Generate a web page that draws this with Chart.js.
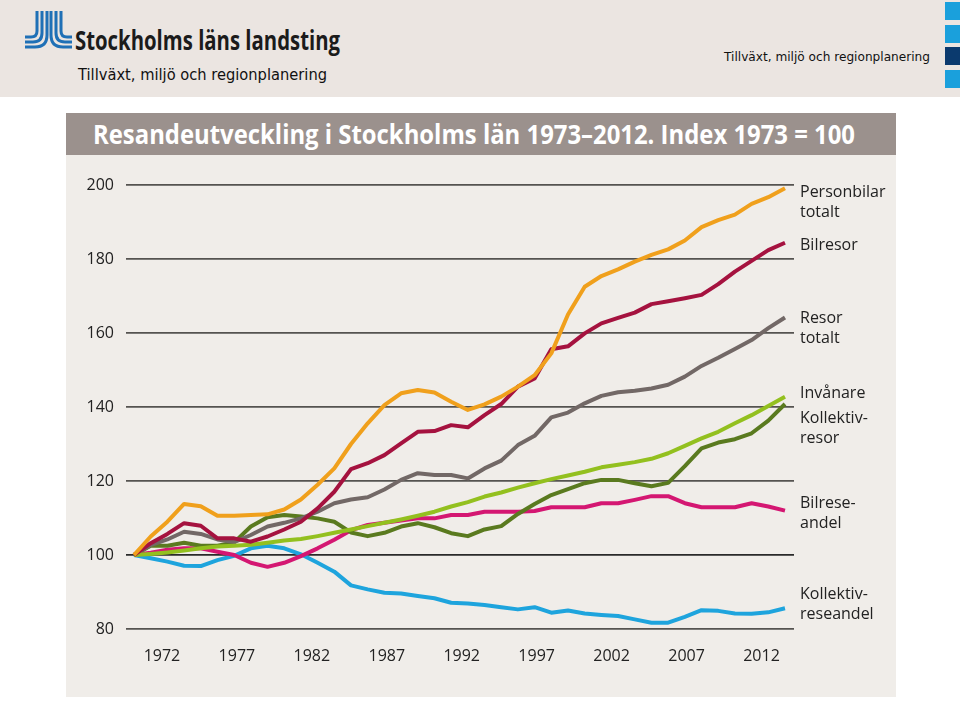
<!DOCTYPE html>
<html>
<head>
<meta charset="utf-8">
<script src="https://cdn.jsdelivr.net/npm/chart.js@4.4.1/dist/chart.umd.min.js"></script>
<style>
  html, body { margin:0; padding:0; background:#ffffff; }
  body { width:960px; height:702px; position:relative; overflow:hidden; font-family:"Open Sans", sans-serif; }
  #header { position:absolute; left:0; top:0; width:960px; height:97px; background:#ebe5e1; }
  .fit { position:absolute; white-space:nowrap; transform-origin:left center; display:inline-block; }
  #brand { left:75px; top:25px; font-family:"Open Sans", sans-serif; font-weight:700; font-size:26px; color:#1b1b1b; line-height:30px; }
  #sub1 { left:78px; top:66px; font-family:"DejaVu Sans", Verdana, sans-serif; font-size:15px; color:#111; line-height:19px; }
  #sub2 { left:724px; top:49px; font-family:"DejaVu Sans", Verdana, sans-serif; font-size:12.5px; color:#111; line-height:16px; }
  .sq { position:absolute; left:945px; width:15px; height:18px; background:#1aa0dc; }
  #panel { position:absolute; left:66px; top:113px; width:830px; height:584px; background:#f0ede9; }
  #titlebar { position:absolute; left:0; top:0; width:830px; height:42px; background:#9b918d; }
  #title { left:27px; top:5px; font-family:"Open Sans", sans-serif; font-weight:700; font-size:26px; color:#ffffff; line-height:32px; }
  #chartwrap { position:absolute; left:0; top:42px; width:830px; height:542px; }
  .lab { position:absolute; left:734px; font-family:"Open Sans", sans-serif; font-size:16px; line-height:20px; color:#222; }
</style>
</head>
<body>
<div id="header">
  <svg width="80" height="60" style="position:absolute;left:0;top:0" viewBox="0 0 80 60">
    <g fill="none" stroke="#1f70b6" stroke-width="3">
      <path d="M37 11 V31 Q37 37 31 37 H25"/>
      <path d="M42 11 V33 Q42 42 33 42 H25"/>
      <path d="M47 11 V35 Q47 47 35 47 H25"/>
      <path d="M61 11 V31 Q61 37 67 37 H72"/>
      <path d="M56 11 V33 Q56 42 65 42 H72"/>
      <path d="M51 11 V35 Q51 47 63 47 H72"/>
    </g>
  </svg>
  <div id="brand" class="fit" data-w="265">Stockholms läns landsting</div>
  <div id="sub1" class="fit" data-w="249">Tillväxt, miljö och regionplanering</div>
  <div id="sub2" class="fit" data-w="206">Tillväxt, miljö och regionplanering</div>
  <div class="sq" style="top:2px;background:#1aa0dc"></div>
  <div class="sq" style="top:25px;background:#1aa0dc"></div>
  <div class="sq" style="top:47px;background:#0b3a6e"></div>
  <div class="sq" style="top:70px;background:#1aa0dc"></div>
</div>
<div id="panel">
  <div id="titlebar"><div id="title" class="fit" data-w="762">Resandeutveckling i Stockholms län 1973–2012. Index 1973 = 100</div></div>
  <div id="chartwrap"><canvas id="c" width="830" height="542"></canvas></div>
  <div class="lab" style="top:67.7px">Personbilar<br>totalt</div>
  <div class="lab" style="top:121px">Bilresor</div>
  <div class="lab" style="top:193.7px">Resor<br>totalt</div>
  <div class="lab" style="top:268.7px">Invånare</div>
  <div class="lab" style="top:293.7px">Kollektiv-<br>resor</div>
  <div class="lab" style="top:378.7px">Bilrese-<br>andel</div>
  <div class="lab" style="top:470px">Kollektiv-<br>reseandel</div>
</div>
<script>
// ---- Data ----
const years = [1973,1974,1975,1976,1977,1978,1979,1980,1981,1982,1983,1984,1985,1986,1987,1988,1989,1990,1991,1992,
               1993,1994,1995,1996,1997,1998,1999,2000,2001,2002,2003,2004,2005,2006,2007,2008,2009,2010,2011,2012];
const xTickLabels = [1972,1977,1982,1987,1992,1997,2002,2007,2012];
const yTickValues = [80,100,120,140,160,180,200];

const personbilarTotalt = [100,105,109,113.8,113.2,110.6,110.6,110.8,111,112.3,115,119,123.4,130,135.6,140.5,143.7,144.6,143.9,141.4,
                           139.2,140.7,142.8,145.5,148.6,154.5,165,172.5,175.4,177.2,179.3,181.1,182.6,185,188.6,190.5,192,194.9,196.7,199.1];
const bilresor = [100,103.2,105.7,108.6,107.9,104.5,104.5,103.6,105,106.9,109,112.6,117.1,123.2,124.8,127,130.2,133.3,133.5,135.1,
                  134.5,137.8,140.8,145.5,147.7,155.6,156.4,159.9,162.6,164.1,165.5,167.8,168.6,169.4,170.3,173.2,176.6,179.5,182.4,184.4];
const resorTotalt = [100,102.7,104.2,106.3,105.7,104.2,103.5,105.4,107.7,108.7,109.9,111.7,114,115,115.6,117.7,120.3,122.1,121.6,121.6,
                     120.7,123.4,125.5,129.7,132.2,137.2,138.5,141,143,144,144.4,145,146,148.2,151.1,153.3,155.7,158.1,161.3,164.2];
const invanare = [100,100.3,100.7,101.2,101.8,102.3,102.5,102.8,103.3,103.9,104.3,105.1,106,106.9,107.8,108.7,109.6,110.6,111.7,113.1,
                  114.3,115.8,116.9,118.2,119.4,120.5,121.5,122.5,123.7,124.4,125.1,126,127.5,129.5,131.5,133.3,135.6,137.8,140.3,142.8];
const kollektivresor = [100,102.5,102.5,103.3,102.5,102.5,103.4,107.7,110.2,110.8,110.4,109.9,109,106.1,105.1,106,107.7,108.6,107.5,105.9,
                        105.1,106.9,107.8,111.1,113.8,116.2,117.8,119.4,120.3,120.3,119.4,118.6,119.5,124,128.8,130.4,131.3,132.9,136.3,140.8];
const bilreseandel = [100,100.6,101.4,101.8,101.8,100.9,100,97.9,96.8,97.9,99.7,101.8,104.1,106.7,108.1,108.7,109.3,109.9,109.9,110.8,
                      110.8,111.7,111.7,111.7,111.9,112.9,112.9,112.9,114,114,114.9,115.9,115.9,114,112.9,112.9,112.9,114,113.1,112];
const kollektivreseandel = [100,99.1,98.2,97.1,97,98.6,99.8,101.8,102.5,101.8,100.2,97.9,95.5,91.8,90.7,89.8,89.6,88.9,88.3,87.1,
                            86.9,86.5,85.9,85.3,85.9,84.4,85,84.2,83.8,83.5,82.6,81.7,81.7,83.3,85.1,84.9,84.2,84.1,84.5,85.6];

const seriesNames = ["Personbilar totalt","Bilresor","Invånare","Resor totalt","Kollektivresor","Bilreseandel","Kollektivreseandel"];
const seriesValues = [personbilarTotalt,bilresor,invanare,resorTotalt,kollektivresor,bilreseandel,kollektivreseandel];
const seriesColors = ["#f0a01c","#a5123f","#93c01f","#726866","#5a7a1f","#d41772","#1ea4dd"];

// ---- fit header texts ----
document.querySelectorAll('.fit').forEach(el => {
  const w = el.getBoundingClientRect().width;
  const target = parseFloat(el.dataset.w);
  if (w > 0) el.style.transform = 'scaleX(' + (target / w) + ')';
});

const tickFont = { family: "'Open Sans', sans-serif", size: 16 };

new Chart(document.getElementById('c'), {
  type: 'line',
  data: {
    datasets: seriesNames.map((name, k) => ({
      label: name,
      data: years.map((yr, i) => ({ x: yr, y: seriesValues[k][i] })),
      borderColor: seriesColors[k],
      backgroundColor: seriesColors[k],
      borderWidth: 4,
      pointRadius: 0,
      tension: 0,
      borderJoinStyle: 'round',
      fill: false,
      xAxisID: 'x',
      yAxisID: 'y'
    }))
  },
  options: {
    responsive: false,
    animation: false,
    events: [],
    layout: { padding: { top: 30, right: 102, left: 0, bottom: 0 } },
    plugins: { legend: { display: false }, tooltip: { enabled: false } },
    scales: {
      x: { type: 'linear', display: false, min: 1972.52, max: 2012.54 },
      x2: {
        type: 'linear', position: 'bottom', min: 1969.6, max: 2014.17,
        grid: { display: false, drawTicks: false },
        border: { display: false },
        afterBuildTicks: s => { s.ticks = xTickLabels.map(v => ({ value: v })); },
        afterFit: s => { s.height = 68; },
        ticks: { callback: v => String(v), font: tickFont, color: '#222', padding: 18, maxRotation: 0, autoSkip: false }
      },
      y: {
        type: 'linear', min: 80, max: 200,
        afterBuildTicks: s => { s.ticks = yTickValues.map(v => ({ value: v })); },
        afterFit: s => { s.width = 60; },
        grid: { drawTicks: false, lineWidth: 1.8, color: c => (c.tick && c.tick.value === 100) ? '#2a2a2a' : '#555350' },
        border: { display: false },
        ticks: { callback: v => String(v), font: tickFont, color: '#222', padding: 12 }
      }
    }
  }
});
</script>
</body>
</html>
